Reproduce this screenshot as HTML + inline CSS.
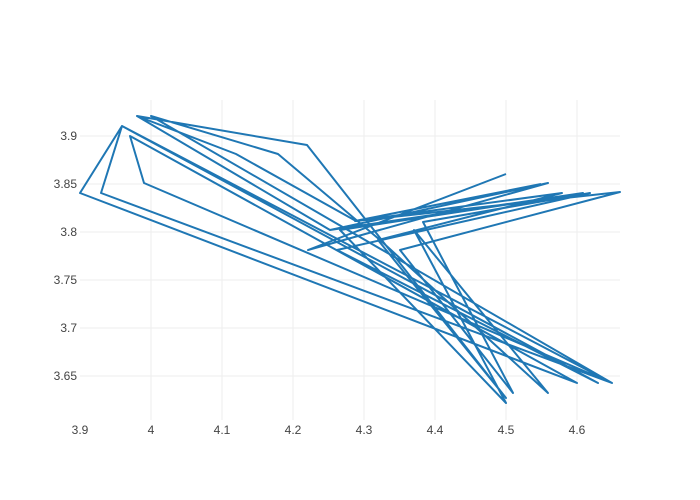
<!DOCTYPE html>
<html><head><meta charset="utf-8"><style>body{margin:0;background:#fff}svg{display:block}text{font-family:"Liberation Sans",sans-serif;font-size:12px;fill:#444}</style></head>
<body>
<svg width="700" height="500" viewBox="0 0 700 500">
<g stroke="#eeeeee" stroke-width="1">
<line x1="151" y1="100" x2="151" y2="420"/><line x1="222" y1="100" x2="222" y2="420"/><line x1="293" y1="100" x2="293" y2="420"/><line x1="364" y1="100" x2="364" y2="420"/><line x1="435" y1="100" x2="435" y2="420"/><line x1="506" y1="100" x2="506" y2="420"/><line x1="577" y1="100" x2="577" y2="420"/>
<line x1="80" y1="136" x2="620" y2="136"/><line x1="80" y1="184" x2="620" y2="184"/><line x1="80" y1="232" x2="620" y2="232"/><line x1="80" y1="280" x2="620" y2="280"/><line x1="80" y1="328" x2="620" y2="328"/><line x1="80" y1="376" x2="620" y2="376"/>
</g>
<polyline fill="none" stroke="#1f77b4" stroke-width="2" stroke-linejoin="round" points="506,174 308,250 548,183 330,230 137,116 236,154 356,221 620,192 400,250 513,393 423,222 590,193 337,250 598,383 122,126 80,193 577,383 130,136 144,183 612,383 122,126 101,193 612,383 151,116 278,154 380,240 548,393 414,230 506,403 340,230 583,193 330,230 137,116 307,145 506,398 378,240 562,193 355,221 541,184"/>
<g text-anchor="middle">
<text x="80" y="434">3.9</text><text x="151" y="434">4</text><text x="222" y="434">4.1</text><text x="293" y="434">4.2</text><text x="364" y="434">4.3</text><text x="435" y="434">4.4</text><text x="506" y="434">4.5</text><text x="577" y="434">4.6</text>
</g>
<g text-anchor="end">
<text x="77" y="140">3.9</text><text x="77" y="188">3.85</text><text x="77" y="236">3.8</text><text x="77" y="284">3.75</text><text x="77" y="332">3.7</text><text x="77" y="380">3.65</text>
</g>
</svg>
</body></html>
